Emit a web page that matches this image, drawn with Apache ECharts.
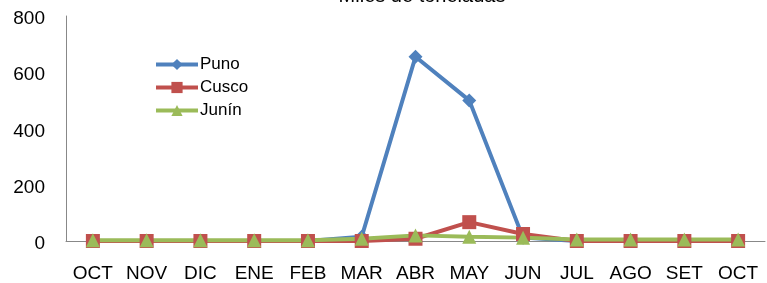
<!DOCTYPE html>
<html>
<head>
<meta charset="utf-8">
<script src="https://cdn.jsdelivr.net/npm/echarts@6/dist/echarts.min.js"></script>
<style>
  html, body { margin: 0; padding: 0; background: #fff; }
  #main { width: 767px; height: 283px; }
</style>
</head>
<body>
<div id="main"></div>
<script>
const months = ['OCT', 'NOV', 'DIC', 'ENE', 'FEB', 'MAR', 'ABR', 'MAY', 'JUN', 'JUL', 'AGO', 'SET', 'OCT']
const puno = [0, 0, 0, 0, 0, 15, 655, 500, 12, 0, 0, 0, 0]
const cusco = [0, 0, 0, 0, 0, 0, 8, 67, 25, 0, 0, 0, 0]
const junin = [3, 3, 3, 3, 3, 8, 20, 15, 12, 5, 5, 5, 5]

const font = 'Liberation Sans, Arial, sans-serif'

const chart = echarts.init(document.getElementById('main'))

// una serie por departamento
const makeSeries = (name, data, color, symbol, size) => ({
  name: name,
  type: 'line',
  data: data,
  symbol: symbol,
  symbolSize: size,
  lineStyle: { width: 4, color: color },
  itemStyle: { color: color },
  animation: false
})

chart.setOption({
  title: {
    text: 'Miles de toneladas',
    left: 417,
    top: -19,
    textAlign: 'center',
    textStyle: { fontFamily: font, fontSize: 20, fontWeight: 'normal', color: '#000' }
  },
  legend: {
    orient: 'vertical',
    left: 149,
    top: 51,
    itemWidth: 42,
    itemHeight: 14,
    itemGap: 6,
    lineStyle: { width: 4 },
    textStyle: { fontFamily: font, fontSize: 17, color: '#000', padding: [0, 0, 0, -3] },
    data: ['Puno', 'Cusco', 'Junín']
  },
  grid: { left: 66, right: 2, top: 16, bottom: 42, containLabel: false },
  xAxis: {
    type: 'category',
    data: months,
    boundaryGap: true,
    axisLine: { lineStyle: { color: '#888', width: 1 } },
    axisTick: { show: false },
    axisLabel: { fontFamily: font, fontSize: 19, color: '#000', margin: 23, interval: 0 }
  },
  yAxis: {
    type: 'value',
    min: 0,
    max: 800,
    interval: 200,
    axisLine: { show: true, lineStyle: { color: '#888', width: 1 } },
    axisTick: { show: false },
    splitLine: { show: false },
    axisLabel: { fontFamily: font, fontSize: 19, color: '#000', margin: 21, verticalAlign: 'top', lineHeight: 6 }
  },
  series: [
    makeSeries('Puno', puno, '#4F81BD', 'diamond', 14),
    makeSeries('Cusco', cusco, '#C0504D', 'rect', 14),
    makeSeries('Junín', junin, '#9BBB59', 'triangle', 14)
  ]
})
</script>
</body>
</html>
